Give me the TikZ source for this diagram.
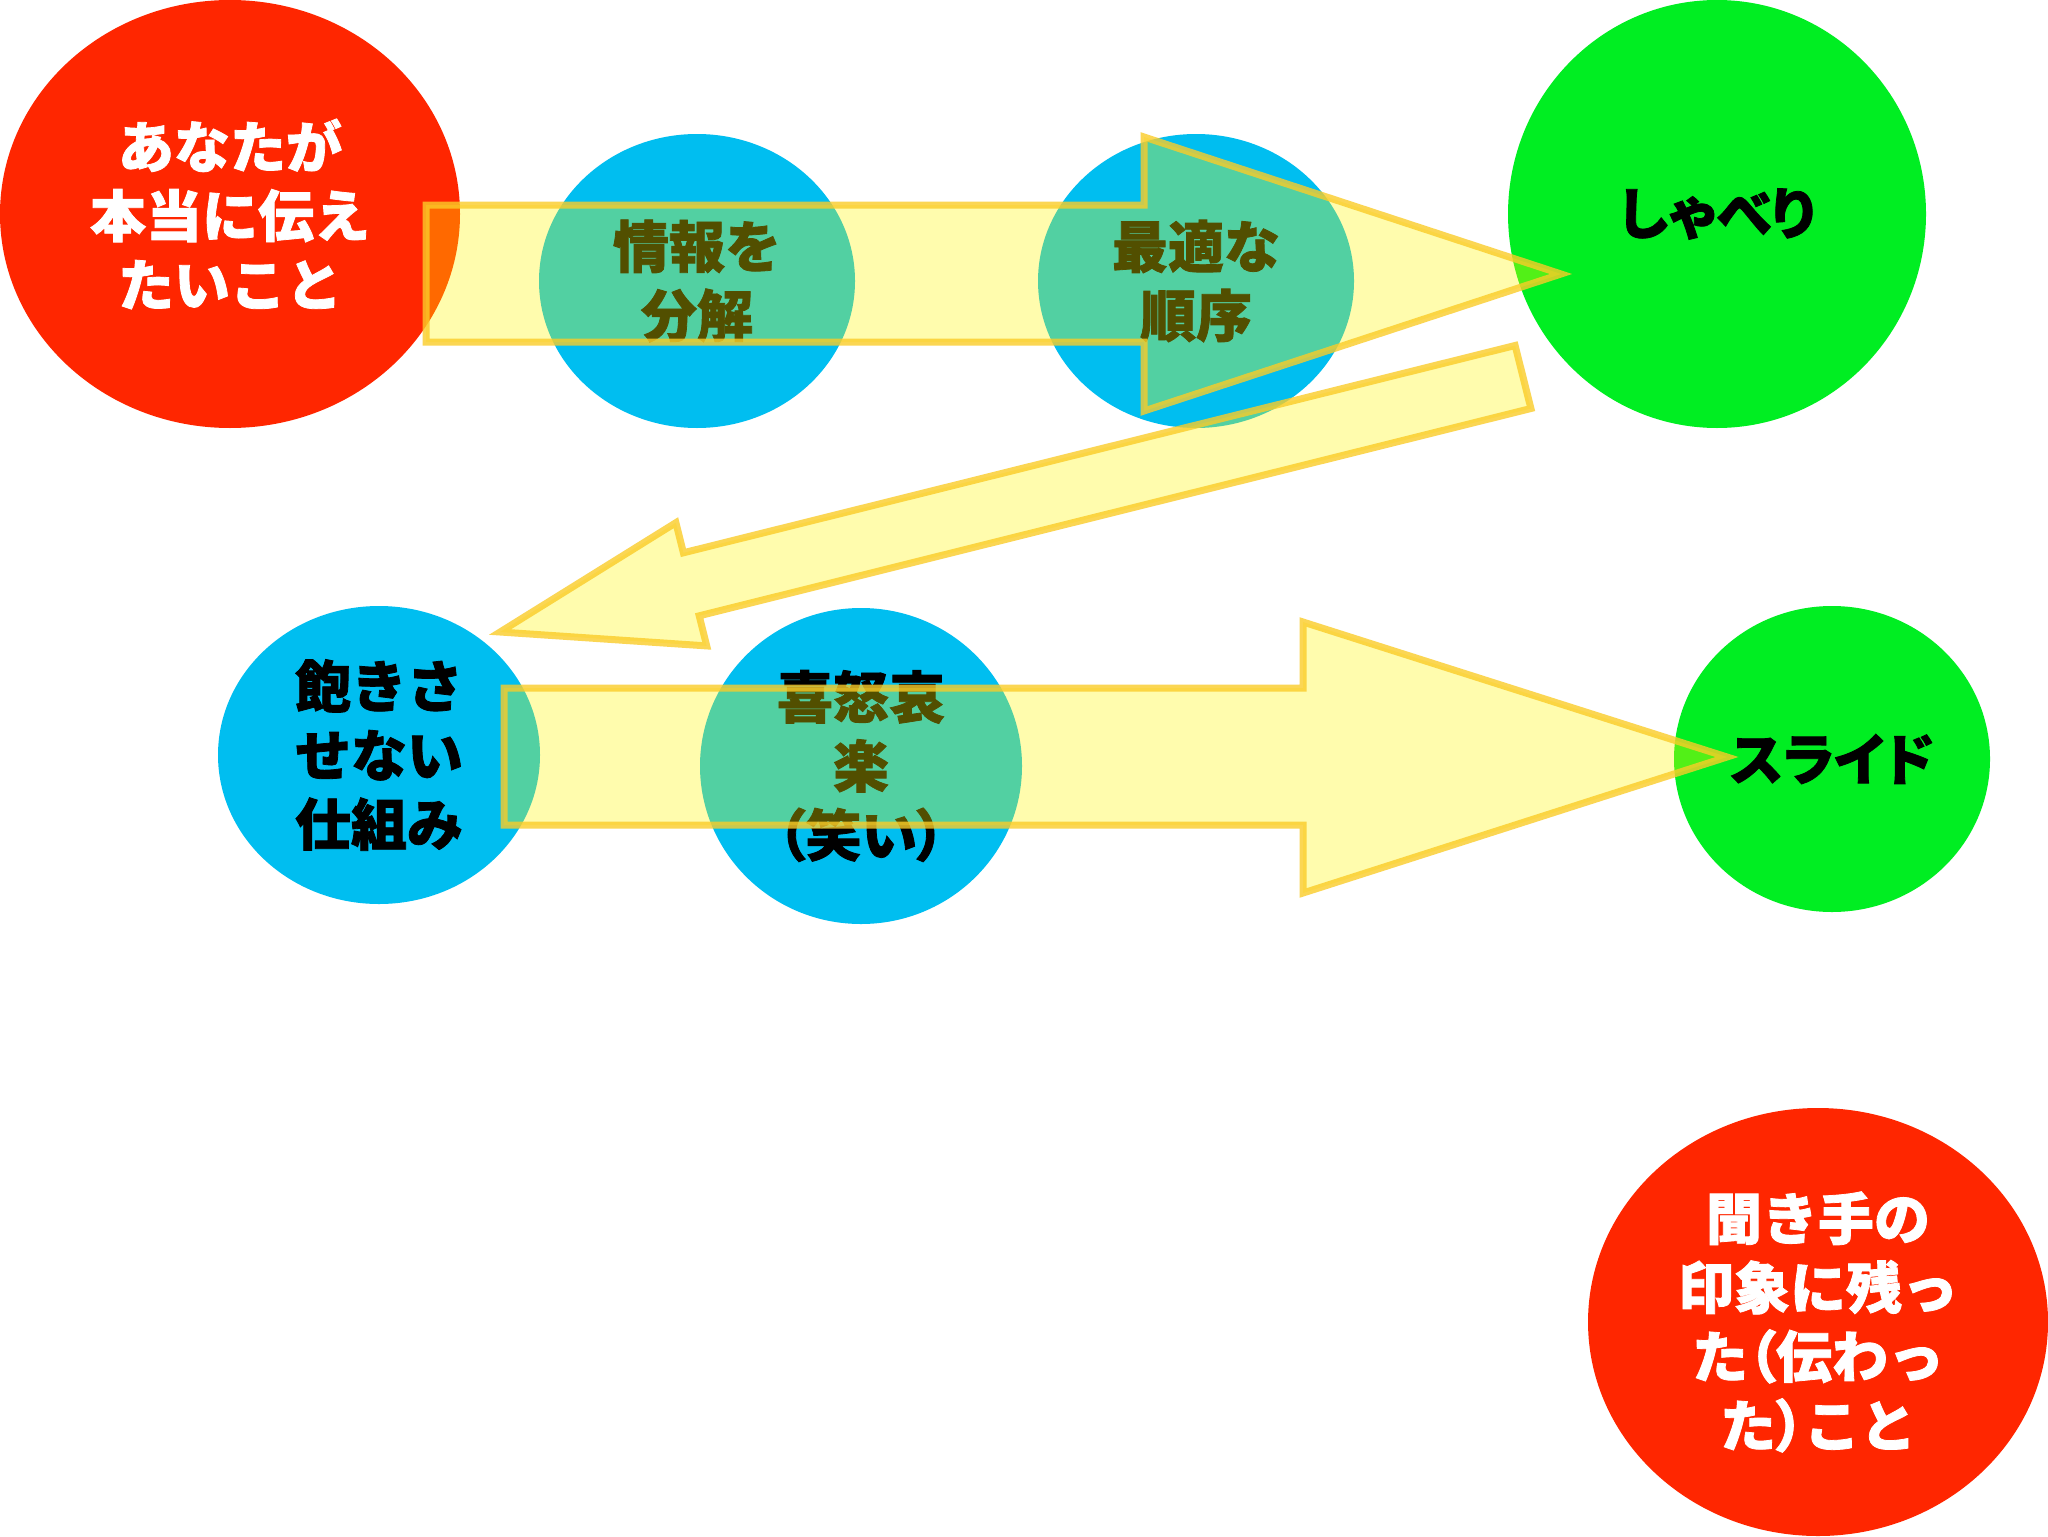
\documentclass[tikz,border=0pt]{standalone}
\usepackage{fontspec}
\setmainfont{Noto Sans CJK JP}[BoldFeatures={FakeBold=1.4}]
\newcommand\propw[1]{{\addfontfeature{RawFeature=+palt}#1}}
\usetikzlibrary{shapes.geometric}
\definecolor{cred}{RGB}{255,38,0}
\definecolor{cblue}{RGB}{0,190,240}
\definecolor{cgreen}{RGB}{0,238,34}
\definecolor{cyel}{RGB}{255,247,0}
\definecolor{cgold}{RGB}{250,204,40}
\begin{document}
\begin{tikzpicture}[x={(0.5pt,0pt)},y={(0pt,-0.5pt)},
  blob/.style n args={3}{ellipse, fill=#1, minimum width=#2, minimum height=#3,
    inner sep=0pt, align=center, font=\bfseries\fontsize{28pt}{34.5pt}\selectfont},
  bigarrow/.style={fill=cyel, fill opacity=0.32, draw=cgold, draw opacity=0.8,
    line width=3.5pt, line join=miter}]
\fill[white] (0,0) rectangle (2048,1536);
\useasboundingbox (0,0) rectangle (2048,1536);

\node[blob={cred}{230pt}{214pt}, text=white] (want) at (230,214) {あなたが\\本当に伝え\\たいこと};
\node[blob={cblue}{158pt}{147pt}] (split) at (697,281) {情報を\\分解};
\node[blob={cblue}{158pt}{147pt}] (order) at (1196,281) {最適な\\順序};
\node[blob={cgreen}{209pt}{214pt}] (talk) at (1717,214) {\propw{しゃべり}};
\node[blob={cblue}{161pt}{149pt}] (keep) at (379,755) {飽きさ\\せない\\仕組み};
\node[blob={cblue}{161pt}{158pt}] (emo) at (861,766) {喜怒哀\\楽\\\propw{（笑い）}};
\node[blob={cgreen}{158pt}{153pt}] (slide) at (1832,759) {\propw{スライド}};
\node[blob={cred}{230pt}{214pt}, text=white] (result) at (1818,1322) {聞き手の\\印象に残っ\\た\propw{（}伝わっ\\た\propw{）}こと};

% arrow 1
\draw[bigarrow] (426,205) -- (1144,205) -- (1144,137) -- (1561,274) -- (1144,411) -- (1144,342) -- (426,342) -- cycle;
% arrow 2 (diagonal)
\coordinate (a2A) at (1515.1,345.5);
\coordinate (a2C) at (683.4,552.8);
\coordinate (a2D) at (675.9,522.7);
\coordinate (a2T) at (500.1,632.0);
\coordinate (a2E) at (706.7,645.9);
\coordinate (a2F) at (699.2,615.8);
\coordinate (a2B) at (1530.9,408.5);
\draw[bigarrow] (a2A) -- (a2C) -- (a2D) -- (a2T) -- (a2E) -- (a2F) -- (a2B) -- cycle;
% arrow 3
\draw[bigarrow] (504,688) -- (1303,688) -- (1303,622) -- (1727,757) -- (1303,893) -- (1303,825) -- (504,825) -- cycle;
\end{tikzpicture}
\end{document}
